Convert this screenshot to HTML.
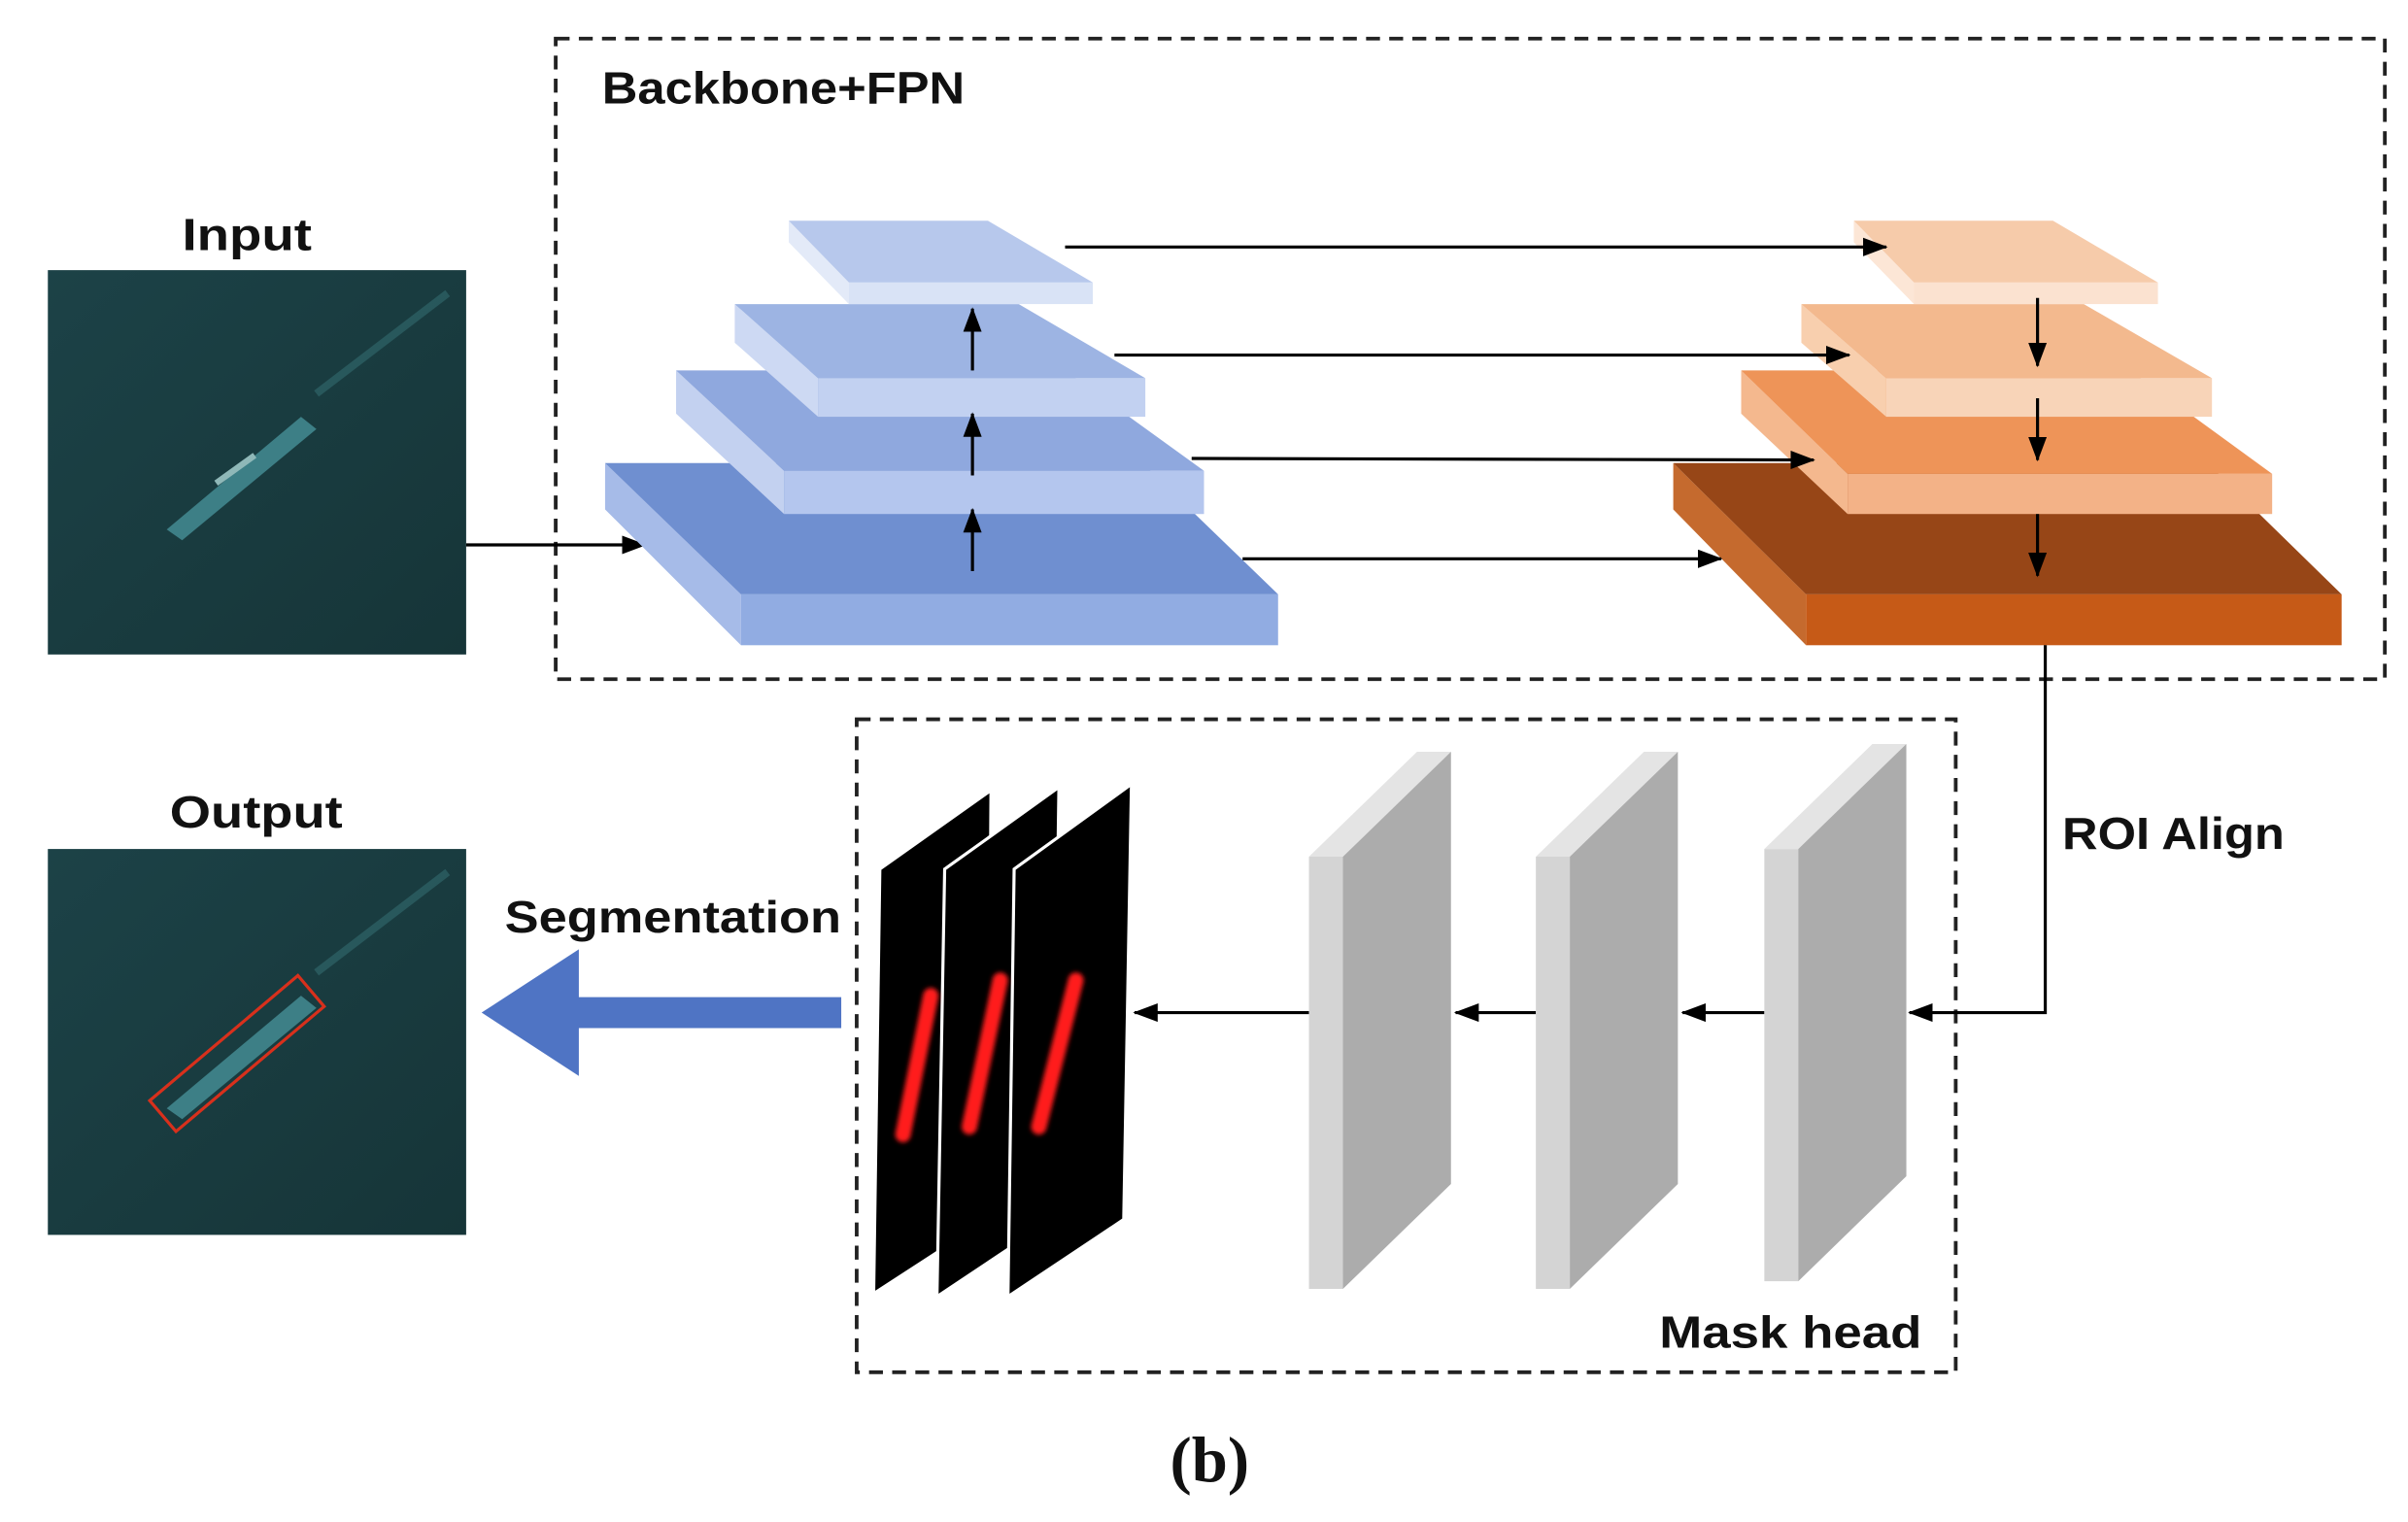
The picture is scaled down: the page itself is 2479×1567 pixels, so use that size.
<!DOCTYPE html>
<html><head><meta charset="utf-8"><style>
html,body{margin:0;padding:0;background:#fff;width:2479px;height:1567px;overflow:hidden}
svg text{font-family:"Liberation Sans",sans-serif;font-weight:bold;fill:#111}
</style></head><body>
<svg width="2479" height="1567" viewBox="0 0 1560 986" preserveAspectRatio="none" xmlns="http://www.w3.org/2000/svg">
<defs>
<marker id="ah2" markerWidth="16" markerHeight="12" refX="15" refY="6" orient="auto" markerUnits="userSpaceOnUse" viewBox="0 0 16 12"><path d="M0,0 L16,6 L0,12 z" fill="#000"/></marker>
<linearGradient id="sea" x1="0" y1="0" x2="1" y2="1"><stop offset="0" stop-color="#1c4247"/><stop offset="1" stop-color="#163538"/></linearGradient>
<filter id="bl"><feGaussianBlur stdDeviation="1.5"/></filter>
</defs>
<rect x="360" y="25" width="1185" height="415" fill="none" stroke="#222" stroke-width="2.4" stroke-dasharray="9,6"/>
<rect x="555" y="466" width="712" height="423" fill="none" stroke="#222" stroke-width="2.4" stroke-dasharray="9,6"/>
<text x="390" y="67" font-size="29" textLength="235" lengthAdjust="spacingAndGlyphs">Backbone+FPN</text>
<text x="118" y="162" font-size="29" textLength="84" lengthAdjust="spacingAndGlyphs">Input</text>
<text x="110" y="536" font-size="29" textLength="112" lengthAdjust="spacingAndGlyphs">Output</text>
<text x="1336" y="550" font-size="29" textLength="144" lengthAdjust="spacingAndGlyphs">ROI Align</text>
<text x="327" y="604" font-size="29" textLength="218" lengthAdjust="spacingAndGlyphs">Segmentation</text>
<text x="1075" y="873" font-size="29" textLength="170" lengthAdjust="spacingAndGlyphs">Mask head</text>
<text x="758" y="960" font-size="42" style="font-family:'Liberation Serif',serif">(b)</text>
<g>
<rect x="31" y="175" width="271" height="249" fill="url(#sea)"/>
<path d="M205,255 L290,190" stroke="#2f6468" stroke-width="5" opacity=".7"/>
<path d="M108,343 L195,270 L205,278 L118,350 Z" fill="#3d7f86"/>
<path d="M140,313 L165,295" stroke="#8fb8b8" stroke-width="4"/>
</g>
<g>
<rect x="31" y="550" width="271" height="250" fill="url(#sea)"/>
<path d="M205,630 L290,565" stroke="#2f6468" stroke-width="5" opacity=".7"/>
<path d="M108,718 L195,645 L205,653 L118,725 Z" fill="#3d7f86"/>
<path d="M97,713 L193,632 L210,652 L114,733 Z" fill="none" stroke="#d8301c" stroke-width="2"/>
</g>
<line x1="302" y1="353" x2="418" y2="353" stroke="#000" stroke-width="2" marker-end="url(#ah2)"/>
<g>
<polygon points="392,300 480,385 480,418 392,330" fill="#a6bbe8"/>
<polygon points="392,300 740,300 828,385 480,385" fill="#6f8fd0"/>
<rect x="480" y="385" width="348" height="33" fill="#91ace2"/>
<polygon points="438,240 508,305 508,333 438,268" fill="#c3d1f0"/>
<polygon points="438,240 690,240 780,305 508,305" fill="#8fa8de"/>
<rect x="508" y="305" width="272" height="28" fill="#b4c6ee"/>
<polygon points="476,197 530,245 530,270 476,222" fill="#cdd9f3"/>
<polygon points="476,197 660,197 742,245 530,245" fill="#9db4e3"/>
<rect x="530" y="245" width="212" height="25" fill="#c2d1f1"/>
<polygon points="511,143 550,183 550,197 511,157" fill="#e3eaf8"/>
<polygon points="511,143 640,143 708,183 550,183" fill="#b7c8ec"/>
<rect x="550" y="183" width="158" height="14" fill="#d9e3f6"/>
</g>
<g>
<polygon points="1084,300 1170,385 1170,418 1084,330" fill="#c56a2e"/>
<polygon points="1084,300 1430,300 1517,385 1170,385" fill="#974617"/>
<rect x="1170" y="385" width="347" height="33" fill="#c65a17"/>
<polygon points="1128,240 1197,307 1197,333 1128,268" fill="#f4b88e"/>
<polygon points="1128,240 1380,240 1472,307 1197,307" fill="#ee9458"/>
<rect x="1197" y="307" width="275" height="26" fill="#f3b287"/>
<polygon points="1167,197 1222,245 1222,270 1167,222" fill="#f8cfae"/>
<polygon points="1167,197 1350,197 1433,245 1222,245" fill="#f3b98e"/>
<rect x="1222" y="245" width="211" height="25" fill="#f8d4b8"/>
<polygon points="1201,143 1240,183 1240,197 1201,157" fill="#fce6d6"/>
<polygon points="1201,143 1330,143 1398,183 1240,183" fill="#f6cbaa"/>
<rect x="1240" y="183" width="158" height="14" fill="#fbe2d0"/>
</g>
<g stroke="#000" stroke-width="2" fill="none">
<line x1="690" y1="160" x2="1222" y2="160" marker-end="url(#ah2)"/>
<line x1="722" y1="230" x2="1198" y2="230" marker-end="url(#ah2)"/>
<line x1="772" y1="297" x2="1175" y2="298" marker-end="url(#ah2)"/>
<line x1="805" y1="362" x2="1115" y2="362" marker-end="url(#ah2)"/>
<line x1="630" y1="240" x2="630" y2="200" marker-end="url(#ah2)"/>
<line x1="630" y1="308" x2="630" y2="268" marker-end="url(#ah2)"/>
<line x1="630" y1="370" x2="630" y2="330" marker-end="url(#ah2)"/>
<line x1="1320" y1="193" x2="1320" y2="237" marker-end="url(#ah2)"/>
<line x1="1320" y1="258" x2="1320" y2="298" marker-end="url(#ah2)"/>
<line x1="1320" y1="333" x2="1320" y2="373" marker-end="url(#ah2)"/>
<polyline points="1325,418 1325,656 1237,656" marker-end="url(#ah2)"/>
<line x1="1143" y1="656" x2="1090" y2="656" marker-end="url(#ah2)"/>
<line x1="995" y1="656" x2="943" y2="656" marker-end="url(#ah2)"/>
<line x1="848" y1="656" x2="735" y2="656" marker-end="url(#ah2)"/>
</g>
<g>
<polygon points="848,555 870,555 870,835 848,835" fill="#d4d4d4"/>
<polygon points="848,555 918,487 940,487 870,555" fill="#e4e4e4"/>
<polygon points="870,555 940,487 940,767 870,835" fill="#acacac"/>
<polygon points="995,555 1017,555 1017,835 995,835" fill="#d4d4d4"/>
<polygon points="995,555 1065,487 1087,487 1017,555" fill="#e4e4e4"/>
<polygon points="1017,555 1087,487 1087,767 1017,835" fill="#acacac"/>
<polygon points="1143,550 1165,550 1165,830 1143,830" fill="#d4d4d4"/>
<polygon points="1143,550 1213,482 1235,482 1165,550" fill="#e4e4e4"/>
<polygon points="1165,550 1235,482 1235,762 1165,830" fill="#acacac"/>
</g>
<g stroke="#fff" stroke-width="2">
<polygon points="570,563 642,512 640,790 566,838" fill="#000"/>
<polygon points="612,563 686,510 682,790 607,840" fill="#000"/>
<polygon points="657,563 733,508 728,790 653,840" fill="#000"/>
</g>
<g stroke="#ff1a1a" stroke-width="10" stroke-linecap="round" filter="url(#bl)">
<line x1="603" y1="645" x2="585" y2="735"/>
<line x1="648" y1="635" x2="628" y2="730"/>
<line x1="697" y1="635" x2="673" y2="730"/>
</g>
<polygon points="545,646 375,646 375,615 312,656 375,697 375,666 545,666" fill="#4f74c4"/>
</svg>
</body></html>
